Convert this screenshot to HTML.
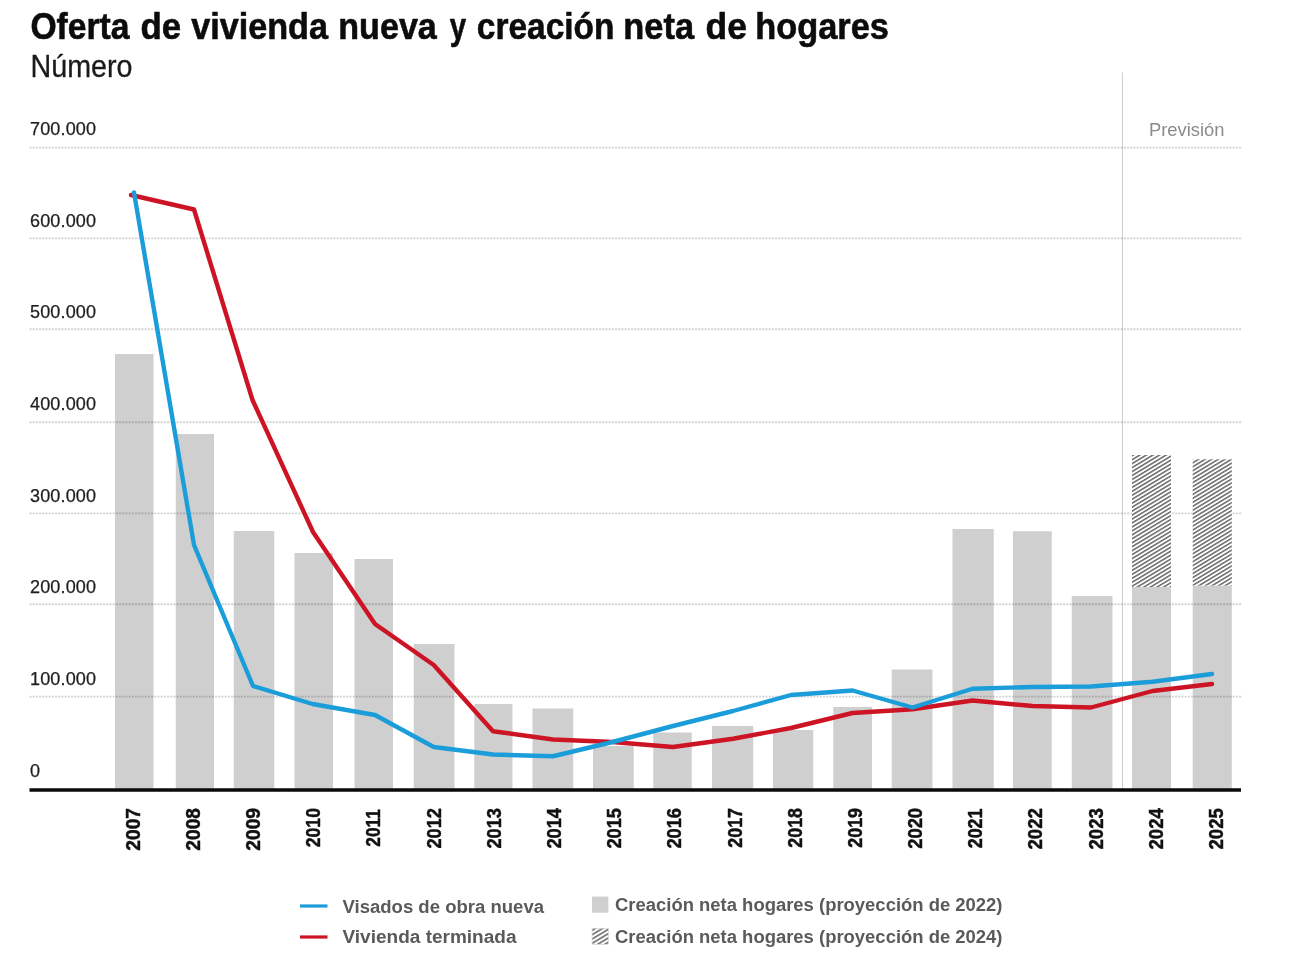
<!DOCTYPE html>
<html><head><meta charset="utf-8"><title>Oferta de vivienda nueva</title>
<style>
html,body{margin:0;padding:0;background:#fff;}
body{width:1300px;height:978px;overflow:hidden;font-family:"Liberation Sans",sans-serif;}
svg{display:block;}
text{font-family:"Liberation Sans",sans-serif;}
.yl{font-size:18px;fill:#1d1d1d;letter-spacing:0.15px;stroke:#1d1d1d;stroke-width:0.25px;}
.xl{font-size:19.6px;font-weight:bold;fill:#111;stroke:#111;stroke-width:0.45px;}
.lg{font-size:19.2px;font-weight:bold;fill:#5a5a5c;}
</style></head><body>
<svg width="1300" height="978" viewBox="0 0 1300 978">
<defs>
<pattern id="hatch" patternUnits="userSpaceOnUse" width="3.39" height="3.39" patternTransform="rotate(-31)">
<rect x="0" y="0" width="3.39" height="3.39" fill="#fff"/>
<rect x="0" y="0" width="3.39" height="1.5" fill="#666"/>
</pattern>
<pattern id="hatch2" patternUnits="userSpaceOnUse" width="3.7" height="3.7" patternTransform="translate(592,929.5) rotate(-31)">
<rect x="0" y="0" width="3.7" height="3.7" fill="#fff"/>
<rect x="0" y="0" width="3.7" height="1.6" fill="#6a6a6a"/>
</pattern>
</defs>
<rect width="1300" height="978" fill="#fff"/>
<text x="30.43" y="39.3" font-size="37" font-weight="bold" fill="#0c0c0c" stroke="#0c0c0c" stroke-width="0.6" textLength="99.13" lengthAdjust="spacingAndGlyphs">Oferta</text><text x="140.57" y="39.3" font-size="37" font-weight="bold" fill="#0c0c0c" stroke="#0c0c0c" stroke-width="0.6" textLength="40.65" lengthAdjust="spacingAndGlyphs">de</text><text x="191.13" y="39.3" font-size="37" font-weight="bold" fill="#0c0c0c" stroke="#0c0c0c" stroke-width="0.6" textLength="136.89" lengthAdjust="spacingAndGlyphs">vivienda</text><text x="338.30" y="39.3" font-size="37" font-weight="bold" fill="#0c0c0c" stroke="#0c0c0c" stroke-width="0.6" textLength="98.49" lengthAdjust="spacingAndGlyphs">nueva</text><text x="449.70" y="39.3" font-size="37" font-weight="bold" fill="#0c0c0c" stroke="#0c0c0c" stroke-width="0.6" textLength="16.37" lengthAdjust="spacingAndGlyphs">y</text><text x="476.85" y="39.3" font-size="37" font-weight="bold" fill="#0c0c0c" stroke="#0c0c0c" stroke-width="0.6" textLength="137.51" lengthAdjust="spacingAndGlyphs">creación</text><text x="623.30" y="39.3" font-size="37" font-weight="bold" fill="#0c0c0c" stroke="#0c0c0c" stroke-width="0.6" textLength="70.74" lengthAdjust="spacingAndGlyphs">neta</text><text x="705.60" y="39.3" font-size="37" font-weight="bold" fill="#0c0c0c" stroke="#0c0c0c" stroke-width="0.6" textLength="41.41" lengthAdjust="spacingAndGlyphs">de</text><text x="755.30" y="39.3" font-size="37" font-weight="bold" fill="#0c0c0c" stroke="#0c0c0c" stroke-width="0.6" textLength="133.62" lengthAdjust="spacingAndGlyphs">hogares</text>
<text x="30.5" y="77.4" font-size="31.2" fill="#1a1a1a" stroke="#1a1a1a" stroke-width="0.3" textLength="102" lengthAdjust="spacingAndGlyphs">Número</text>

<line x1="1122.5" y1="72.5" x2="1122.5" y2="789" stroke="#d0d0d0" stroke-width="1.1"/>
<text x="1149" y="136" font-size="18.5" fill="#8b8b8b" textLength="75.5" lengthAdjust="spacingAndGlyphs">Previsión</text>
<rect x="115" y="354" width="38.5" height="436" fill="#cfcfcf"/>
<rect x="175.75" y="434" width="38.25" height="356" fill="#cfcfcf"/>
<rect x="233.75" y="531" width="40.5" height="259" fill="#cfcfcf"/>
<rect x="294.5" y="553" width="38.5" height="237" fill="#cfcfcf"/>
<rect x="354.5" y="559" width="38.5" height="231" fill="#cfcfcf"/>
<rect x="413.75" y="644" width="40.75" height="146" fill="#cfcfcf"/>
<rect x="474.25" y="704" width="38.25" height="86" fill="#cfcfcf"/>
<rect x="532.5" y="708.5" width="40.75" height="81.5" fill="#cfcfcf"/>
<rect x="593" y="746" width="40.75" height="44" fill="#cfcfcf"/>
<rect x="653.25" y="732.5" width="38.5" height="57.5" fill="#cfcfcf"/>
<rect x="712" y="726" width="41.25" height="64" fill="#cfcfcf"/>
<rect x="773" y="730" width="40.25" height="60" fill="#cfcfcf"/>
<rect x="833.25" y="707" width="38.75" height="83" fill="#cfcfcf"/>
<rect x="891.75" y="669.5" width="40.75" height="120.5" fill="#cfcfcf"/>
<rect x="952.5" y="529" width="41.25" height="261" fill="#cfcfcf"/>
<rect x="1013" y="531.25" width="38.75" height="258.75" fill="#cfcfcf"/>
<rect x="1071.75" y="596" width="40.75" height="194" fill="#cfcfcf"/>
<rect x="1132" y="587" width="39" height="203" fill="#cfcfcf"/>
<rect x="1192.7" y="585.5" width="39.09999999999991" height="204.5" fill="#cfcfcf"/>
<line x1="29.5" y1="147.6" x2="1242" y2="147.6" stroke="#d4d4d4" stroke-width="1.9" stroke-dasharray="2.1 1.1" style="mix-blend-mode:multiply"/>
<text class="yl" x="30" y="134.9">700.000</text>
<line x1="29.5" y1="238.4" x2="1242" y2="238.4" stroke="#d4d4d4" stroke-width="1.9" stroke-dasharray="2.1 1.1" style="mix-blend-mode:multiply"/>
<text class="yl" x="30" y="226.6">600.000</text>
<line x1="29.5" y1="329.2" x2="1242" y2="329.2" stroke="#d4d4d4" stroke-width="1.9" stroke-dasharray="2.1 1.1" style="mix-blend-mode:multiply"/>
<text class="yl" x="30" y="318.4">500.000</text>
<line x1="29.5" y1="422.2" x2="1242" y2="422.2" stroke="#d4d4d4" stroke-width="1.9" stroke-dasharray="2.1 1.1" style="mix-blend-mode:multiply"/>
<text class="yl" x="30" y="409.9">400.000</text>
<line x1="29.5" y1="513.4" x2="1242" y2="513.4" stroke="#d4d4d4" stroke-width="1.9" stroke-dasharray="2.1 1.1" style="mix-blend-mode:multiply"/>
<text class="yl" x="30" y="501.7">300.000</text>
<line x1="29.5" y1="604.2" x2="1242" y2="604.2" stroke="#d4d4d4" stroke-width="1.9" stroke-dasharray="2.1 1.1" style="mix-blend-mode:multiply"/>
<text class="yl" x="30" y="593.3">200.000</text>
<line x1="29.5" y1="696.6" x2="1242" y2="696.6" stroke="#d4d4d4" stroke-width="1.9" stroke-dasharray="2.1 1.1" style="mix-blend-mode:multiply"/>
<text class="yl" x="30" y="685.1">100.000</text>
<text class="yl" x="30" y="776.7">0</text>
<rect x="1132" y="455" width="39" height="132" fill="url(#hatch)"/>
<rect x="1192.7" y="459.3" width="39.09999999999991" height="126.19999999999999" fill="url(#hatch)"/>
<line x1="29.5" y1="790" x2="1241" y2="790" stroke="#0a0a0a" stroke-width="3.4"/>
<polyline points="131,195 194,209.5 252.5,400 313,532 375,624 433.75,665 493,731.25 553,739.5 612.5,742 673,747 733,738.75 791,728 852.5,713 912.5,709.25 972.5,700.5 1032.5,706 1091,707.5 1152.5,691 1212,684" fill="none" stroke="#cc1424" stroke-width="4.4" stroke-linejoin="round" stroke-linecap="round"/>
<polyline points="134,192.5 194,545 253,686 312.5,704 375,715 433.75,747 493,754.5 553,756.25 612.5,742 673,726 733,711 791,695 852.5,690.5 912.5,707.5 972.5,688.75 1032.5,687 1091,686.5 1152.5,681.75 1212,674" fill="none" stroke="#1b9dd9" stroke-width="4.4" stroke-linejoin="round" stroke-linecap="round"/>
<text class="xl" text-anchor="end" transform="translate(139.60,808.0) rotate(-90)" textLength="42.7" lengthAdjust="spacingAndGlyphs">2007</text>
<text class="xl" text-anchor="end" transform="translate(199.79,808.0) rotate(-90)" textLength="42.7" lengthAdjust="spacingAndGlyphs">2008</text>
<text class="xl" text-anchor="end" transform="translate(259.98,808.0) rotate(-90)" textLength="42.7" lengthAdjust="spacingAndGlyphs">2009</text>
<text class="xl" text-anchor="end" transform="translate(320.17,808.0) rotate(-90)" textLength="39.3" lengthAdjust="spacingAndGlyphs">2010</text>
<text class="xl" text-anchor="end" transform="translate(380.36,809.2) rotate(-90)" textLength="37.5" lengthAdjust="spacingAndGlyphs">2011</text>
<text class="xl" text-anchor="end" transform="translate(440.55,808.0) rotate(-90)" textLength="40.5" lengthAdjust="spacingAndGlyphs">2012</text>
<text class="xl" text-anchor="end" transform="translate(500.74,808.0) rotate(-90)" textLength="40.5" lengthAdjust="spacingAndGlyphs">2013</text>
<text class="xl" text-anchor="end" transform="translate(560.93,808.0) rotate(-90)" textLength="40.6" lengthAdjust="spacingAndGlyphs">2014</text>
<text class="xl" text-anchor="end" transform="translate(621.12,808.0) rotate(-90)" textLength="40.6" lengthAdjust="spacingAndGlyphs">2015</text>
<text class="xl" text-anchor="end" transform="translate(681.31,808.0) rotate(-90)" textLength="40.6" lengthAdjust="spacingAndGlyphs">2016</text>
<text class="xl" text-anchor="end" transform="translate(741.50,808.0) rotate(-90)" textLength="39.7" lengthAdjust="spacingAndGlyphs">2017</text>
<text class="xl" text-anchor="end" transform="translate(801.69,808.0) rotate(-90)" textLength="39.7" lengthAdjust="spacingAndGlyphs">2018</text>
<text class="xl" text-anchor="end" transform="translate(861.88,808.0) rotate(-90)" textLength="39.7" lengthAdjust="spacingAndGlyphs">2019</text>
<text class="xl" text-anchor="end" transform="translate(922.07,808.0) rotate(-90)" textLength="40.7" lengthAdjust="spacingAndGlyphs">2020</text>
<text class="xl" text-anchor="end" transform="translate(982.26,808.6) rotate(-90)" textLength="39.7" lengthAdjust="spacingAndGlyphs">2021</text>
<text class="xl" text-anchor="end" transform="translate(1042.45,808.0) rotate(-90)" textLength="41.5" lengthAdjust="spacingAndGlyphs">2022</text>
<text class="xl" text-anchor="end" transform="translate(1102.64,808.0) rotate(-90)" textLength="41.5" lengthAdjust="spacingAndGlyphs">2023</text>
<text class="xl" text-anchor="end" transform="translate(1162.83,808.0) rotate(-90)" textLength="41.5" lengthAdjust="spacingAndGlyphs">2024</text>
<text class="xl" text-anchor="end" transform="translate(1223.02,808.0) rotate(-90)" textLength="41.5" lengthAdjust="spacingAndGlyphs">2025</text>
<line x1="300" y1="906" x2="327.5" y2="906" stroke="#1b9dd9" stroke-width="3.2"/>
<line x1="300" y1="937" x2="327.5" y2="937" stroke="#cc1424" stroke-width="3.2"/>
<text class="lg" x="342.5" y="912.5" textLength="201.5" lengthAdjust="spacingAndGlyphs">Visados de obra nueva</text>
<text class="lg" x="342.5" y="943.3" textLength="174" lengthAdjust="spacingAndGlyphs">Vivienda terminada</text>
<rect x="592" y="896.6" width="16.4" height="16.1" fill="#cfcfcf"/>
<rect x="592.1" y="928.3" width="16.3" height="16" fill="url(#hatch2)" stroke="#d4d4d4" stroke-width="0.6"/>
<text class="lg" x="615" y="911.3" textLength="387.5" lengthAdjust="spacingAndGlyphs">Creación neta hogares (proyección de 2022)</text>
<text class="lg" x="615" y="943.3" textLength="387.5" lengthAdjust="spacingAndGlyphs">Creación neta hogares (proyección de 2024)</text>
</svg></body></html>
